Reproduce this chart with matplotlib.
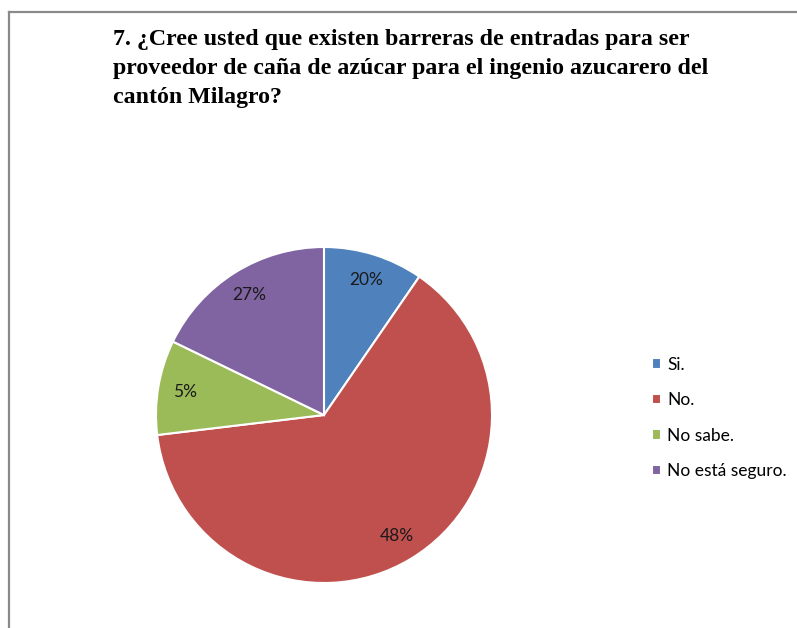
import matplotlib
matplotlib.use("Agg")
import matplotlib.pyplot as plt
from matplotlib.lines import Line2D

categories = ["Si.", "No.", "No sabe.", "No está seguro."]
values = [9.6, 63.5, 9.1, 17.8]
pct_labels = ["20%", "48%", "5%", "27%"]
colors = ["#4F81BD", "#C0504D", "#9BBB59", "#8064A2"]
title = ("7. ¿Cree usted que existen barreras de entradas para ser\n"
         "proveedor de caña de azúcar para el ingenio azucarero del\n"
         "cantón Milagro?")

W, H = 797, 628
fig = plt.figure(figsize=(W / 100, H / 100), dpi=100)
fig.patch.set_facecolor("white")

# frame (left and top edges)
fig.add_artist(Line2D([8.5 / W, 8.5 / W], [0, 1 - 12 / H], transform=fig.transFigure,
                      color="#8a8a8a", linewidth=1.6))
fig.add_artist(Line2D([8.5 / W, 1], [1 - 12 / H, 1 - 12 / H], transform=fig.transFigure,
                      color="#8a8a8a", linewidth=1.6))

cx, cy, r = 324, 415, 168
ax = fig.add_axes([(cx - r) / W, 1 - (cy + r) / H, 2 * r / W, 2 * r / H])
wedges, texts, autotexts = ax.pie(
    values, colors=colors, startangle=90, counterclock=False,
    autopct="%1.0f%%", pctdistance=0.84, radius=1.0,
    wedgeprops=dict(edgecolor="white", linewidth=1.5),
    textprops=dict(fontsize=12.5, color="#1a1a1a", family="Lato"))
for t, lab in zip(autotexts, pct_labels):
    t.set_text(lab)
ax.set_xlim(-1.0, 1.0)
ax.set_ylim(-1.0, 1.0)
ax.set_aspect("equal")
ax.axis("off")

fig.text(113 / W, 1 - 29 / H, title, ha="left", va="top", fontsize=17.2,
         fontweight="bold", family="Liberation Serif", linespacing=1.5)

leg = fig.legend(wedges, categories, loc="upper left",
                 bbox_to_anchor=(636 / W, 1 - 341 / H), frameon=False,
                 prop=dict(family="Lato", size=12.5), handlelength=0.55,
                 handleheight=0.55, handletextpad=0.35, labelspacing=1.12)

fig.savefig("out.png", dpi=100)
